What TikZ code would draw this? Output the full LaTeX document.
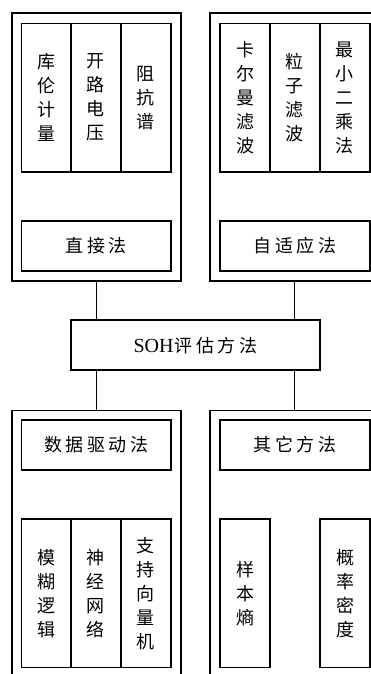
\documentclass[tikz,border=0pt]{standalone}
\usepackage{fontspec}
\newfontfamily\cjk{Noto Sans CJK SC}
\newfontfamily\lat{Liberation Serif}
\newcommand{\gp}{\kern3.5pt}
\begin{document}
\begin{tikzpicture}[x=1pt,y=-1pt,
  box/.style={draw,line width=1.7pt,inner sep=0pt,anchor=north west},
  vtext/.style={font=\cjk\fontsize{18}{24}\selectfont,align=center},
  htext/.style={font=\cjk\fontsize{18}{20}\selectfont},
  link/.style={line width=1.7pt}]
\useasboundingbox (0,0) rectangle (371,674);
\clip (0,0) rectangle (371,674);
% outer groups
\node[box,minimum width=169pt,minimum height=267.7pt] (oTL) at (11,12.3) {};
\node[box,minimum width=169pt,minimum height=267.7pt] (oTR) at (209,12.3) {};
\node[box,minimum width=169pt,minimum height=290pt] (oBL) at (11,409.5) {};
\node[box,minimum width=169pt,minimum height=290pt] (oBR) at (209,409.5) {};
% top-left inner
\node[box,vtext,minimum width=49.3pt,minimum height=148.3pt] (kl) at (20.7,22.7) {库\\伦\\计\\量};
\node[box,vtext,minimum width=50pt,minimum height=148.3pt] (kl2) at (70,22.7) {开\\路\\电\\压};
\node[box,vtext,minimum width=50pt,minimum height=148.3pt] (zk) at (120,22.7) {阻\\抗\\谱};
\node[box,htext,minimum width=149.3pt,minimum height=50pt] (zj) at (20.7,220) {直\gp 接\gp 法};
% top-right inner
\node[box,vtext,minimum width=49.7pt,minimum height=148.3pt] (ke) at (219.3,22.7) {卡\\尔\\曼\\滤\\波};
\node[box,vtext,minimum width=50pt,minimum height=148.3pt] (lz) at (269,22.7) {粒\\子\\滤\\波};
\node[box,vtext,minimum width=50pt,minimum height=148.3pt] (zx) at (319,22.7) {最\\小\\二\\乘\\法};
\node[box,htext,minimum width=149.7pt,minimum height=50pt] (zs) at (219.3,220) {自\gp 适\gp 应\gp 法};
% centre
\node[box,htext,minimum width=249pt,minimum height=50pt] (soh) at (70,319.3) {{\lat\fontsize{20}{20}\selectfont SOH}\kern1pt 评\gp 估\gp 方\gp 法};
% bottom-left inner
\node[box,htext,minimum width=149.3pt,minimum height=49.7pt] (sj) at (20.7,419.3) {数\gp 据\gp 驱\gp 动\gp 法};
\node[box,vtext,minimum width=49.3pt,minimum height=148.4pt] (mh) at (20.7,518.3) {模\\糊\\逻\\辑};
\node[box,vtext,minimum width=50pt,minimum height=148.4pt] (sj2) at (70,518.3) {神\\经\\网\\络};
\node[box,vtext,minimum width=50pt,minimum height=148.4pt] (zc) at (120,518.3) {支\\持\\向\\量\\机};
% bottom-right inner
\node[box,htext,minimum width=149.7pt,minimum height=49.7pt] (qt) at (219.3,419.3) {其\gp 它\gp 方\gp 法};
\node[box,vtext,minimum width=50pt,minimum height=148.4pt] (yb) at (219.3,518.3) {样\\本\\熵};
\node[box,vtext,minimum width=49.7pt,minimum height=148.4pt] (gl) at (319.3,518.3) {概\\率\\密\\度};
% connectors
\draw[link] (oTL.south) -- (oTL.south |- soh.north);
\draw[link] (oTR.south) -- (oTR.south |- soh.north);
\draw[link] (oBL.north |- soh.south) -- (oBL.north);
\draw[link] (oBR.north |- soh.south) -- (oBR.north);
\end{tikzpicture}
\end{document}
